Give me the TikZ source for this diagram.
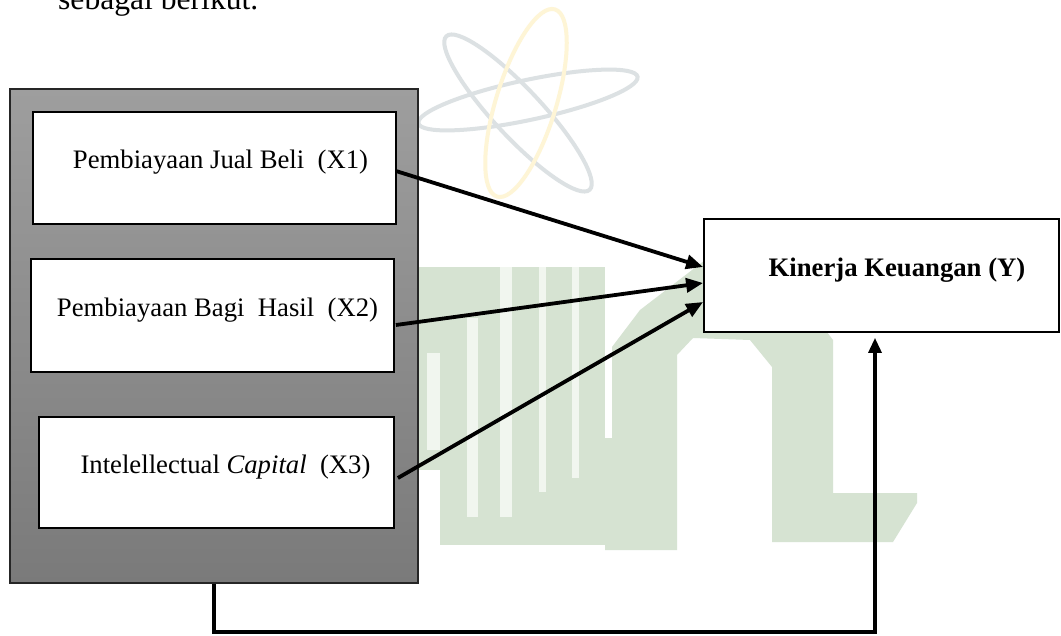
\documentclass[tikz,border=0pt]{standalone}
\usepackage{fontspec}
\setmainfont{Liberation Serif}
\usetikzlibrary{arrows.meta,calc}
\definecolor{wmgreen}{HTML}{D6E3D2}
\definecolor{wmstripe}{HTML}{F1F6EF}
\definecolor{wmgrey}{HTML}{DCE1E3}
\definecolor{wmyellow}{HTML}{FEF5D6}
\definecolor{panelTop}{HTML}{9E9E9E}
\definecolor{panelBot}{HTML}{7A7A7A}
\begin{document}
\begin{tikzpicture}[x=1pt,y=-1pt,
  box/.style={draw=black, fill=white, line width=1.8pt, inner sep=0pt},
  lbl/.style={anchor=base, inner sep=0pt, font=\fontsize{26.7}{30}\selectfont},
  link/.style={line width=3.8pt, -{Triangle[length=17pt,width=14pt]}},
  feed/.style={line width=3.2pt, -{Triangle[length=15pt,width=13pt]}},
]
\useasboundingbox (0,0) rectangle (1061,636);
\clip (0,0) rectangle (1061,636);
\fill[white] (0,0) rectangle (1061,636);

% faint background emblem: atom
\draw[wmgrey, line width=4pt, rotate around={-47:(518,113)}] (518,113) ellipse (105 and 24);
\draw[wmgrey, line width=4pt, rotate around={12:(528,100)}] (528,100) ellipse (112 and 20);
\draw[wmyellow, line width=4pt, rotate around={72.8:(526,103)}] (526,103) ellipse (98 and 30);

% faint background emblem: building
\fill[wmgreen] (418,267) rectangle (605,470);
\fill[wmgreen] (440,470) rectangle (605,545);
\fill[wmgreen] (605,545) -- (605,438) -- (612,438) -- (612,347) -- (640,310)
  -- (722,247) -- (823,327) -- (833,340) -- (833,493) -- (917,493) -- (917,503)
  -- (893,542) -- (772,542) -- (772,367) -- (750,340) -- (693,338) -- (677,355)
  -- (677,550) -- (605,550) -- cycle;
\fill[wmstripe] (427,353) rectangle (440,450);
\fill[wmstripe] (467,318) rectangle (478,517);
\fill[wmstripe] (500,267) rectangle (512,517);
\fill[wmstripe] (539,267) rectangle (546,492);
\fill[wmstripe] (572,267) rectangle (579,478);

% intro line
\node[anchor=base west, inner sep=0pt, font=\fontsize{31.6}{36}\selectfont] (intro) at (58,9.5) {sebagai berikut.};

% grouping panel for the independent variables
\node[draw=black!85, line width=1.8pt, top color=panelTop, bottom color=panelBot,
      minimum width=408pt, minimum height=494pt, inner sep=0pt] (G) at (214,336) {};

% independent variables
\node[box, minimum width=363pt, minimum height=112pt] (X1) at (214.5,168) {};
\node[box, minimum width=363pt, minimum height=113pt] (X2) at (212.5,315.5) {};
\node[box, minimum width=355pt, minimum height=111pt] (X3) at (216.5,472.5) {};
\node[lbl] (X1t) at (220.5,169) {Pembiayaan Jual Beli~ (X1)};
\node[lbl] (X2t) at (217.5,316.7) {Pembiayaan Bagi~ Hasil~ (X2)};
\node[lbl] (X3t) at (225.5,473) {Intelellectual \textit{Capital}~ (X3)};

% dependent variable
\node[box, minimum width=355pt, minimum height=113pt] (Y) at (881.5,275.5) {};
\node[lbl] (Yt) at (897,277) {\textbf{Kinerja Keuangan (Y)}};

% partial effects
\draw[link] ($(X1.east)+(-1,3)$) -- ($(Y.west)+(0,-8.5)$);
\draw[link] ($(X2.east)+(1,9.5)$) -- ($(Y.west)+(0,7.5)$);
\draw[link] ($(X3.east)+(3,5.5)$) -- ($(Y.west)+(0,26.5)$);

% simultaneous effect
\coordinate (bend) at (875,632);
\draw[feed] (G.south) |- (bend) -- ($(Y.south)+(-6.5,5)$);
\end{tikzpicture}
\end{document}
